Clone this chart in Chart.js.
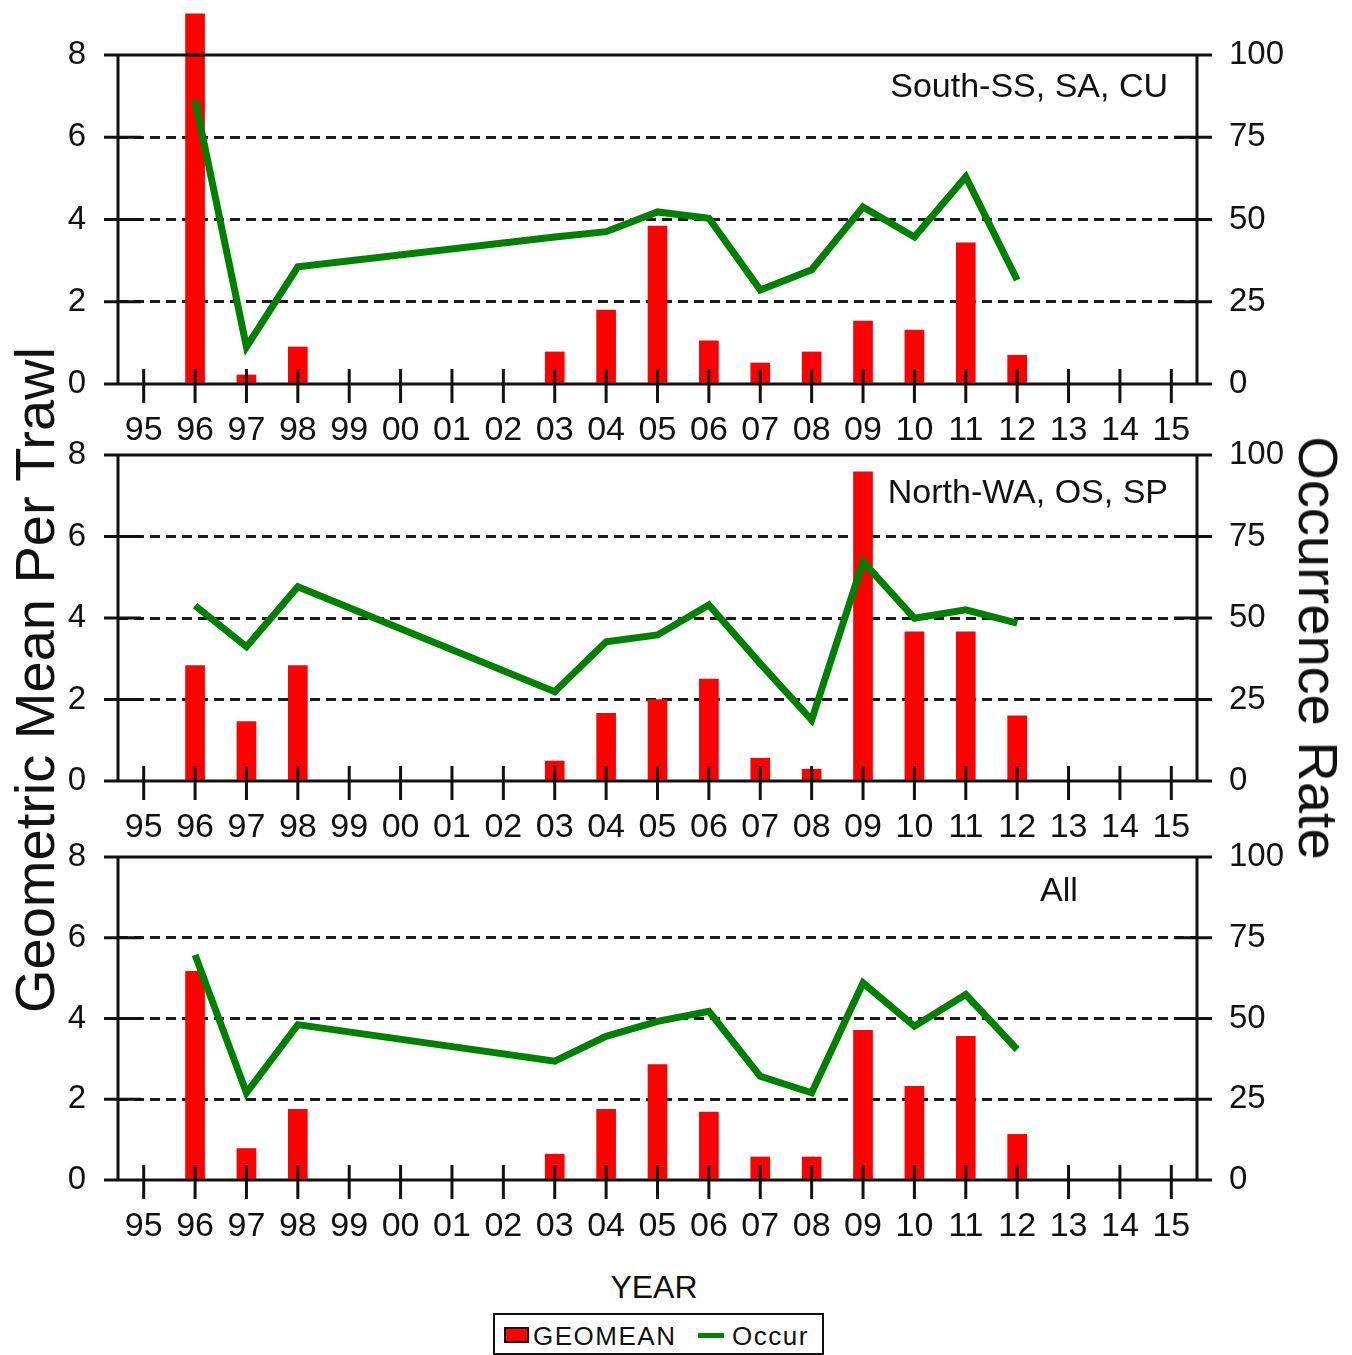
<!DOCTYPE html>
<html>
<head>
<meta charset="utf-8">
<script src="https://cdn.jsdelivr.net/npm/chart.js@4.4.1/dist/chart.umd.min.js"></script>
<style>
html, body { margin: 0; padding: 0; background: #fff; }
body { width: 1352px; height: 1355px; position: relative; overflow: hidden; font-family: 'Liberation Sans', Arial, sans-serif; color: #111; }
.pane { position: absolute; left: 0; width: 1352px; height: 450px; }
.txt { position: absolute; white-space: nowrap; line-height: 1; }
.rot { position: absolute; white-space: nowrap; line-height: 1; transform: translate(-50%, -50%); }
#legend { position: absolute; left: 493px; top: 1313px; width: 331px; height: 42px; box-sizing: border-box; border: 2px solid #111; }
#legend .sw { position: absolute; left: 9px; top: 12px; width: 25px; height: 16px; box-sizing: border-box; background: #ff0000; border: 2px solid #111; }
#legend .ln { position: absolute; left: 203px; top: 18px; width: 26px; height: 5px; background: #008000; }
#legend .lt { position: absolute; top: 8px; font-size: 26px; line-height: 1; letter-spacing: 1.5px; }
</style>
</head>
<body>
<canvas id="c1" class="pane" width="1352" height="450" style="top:0px"></canvas>
<canvas id="c2" class="pane" width="1352" height="450" style="top:400px"></canvas>
<canvas id="c3" class="pane" width="1352" height="450" style="top:800px"></canvas>

<div class="txt" style="right:184px; top:68px; font-size:34px;">South-SS, SA, CU</div>
<div class="txt" style="right:184px; top:474px; font-size:34px;">North-WA, OS, SP</div>
<div class="rot" style="left:1059px; top:889px; font-size:34px;">All</div>
<div class="rot" style="left:35px; top:680px; font-size:56px; transform: translate(-50%, -50%) rotate(-90deg);">Geometric Mean Per Trawl</div>
<div class="rot" style="left:1318px; top:648px; font-size:56px; transform: translate(-50%, -50%) rotate(90deg);">Occurrence Rate</div>
<div class="rot" style="left:654px; top:1287px; font-size:32px;">YEAR</div>
<div id="legend">
  <div class="sw"></div><div class="lt" style="left:38px;">GEOMEAN</div>
  <div class="ln"></div><div class="lt" style="left:237px;">Occur</div>
</div>

<script>
// ---- Data ----
const years = ['95','96','97','98','99','00','01','02','03','04','05','06','07','08','09','10','11','12','13','14','15'];

const southGeomean = [null, 9.0, 0.22, 0.9, null, null, null, null, 0.78, 1.8, 3.84, 1.05, 0.51, 0.78, 1.53, 1.31, 3.43, 0.7, null, null, null];
const southOccur   = [null, 86.3, 11.3, 35.6, null, null, null, null, 44.7, 46.3, 52.3, 50.4, 28.6, 34.7, 53.8, 44.7, 63.0, 31.6, null, null, null];

const northGeomean = [null, 2.83, 1.46, 2.83, null, null, null, null, 0.49, 1.66, 2.0, 2.5, 0.56, 0.29, 7.59, 3.66, 3.66, 1.6, null, null, null];
const northOccur   = [null, 53.8, 41.2, 59.6, null, null, null, null, 27.4, 42.7, 44.8, 54.0, 36.0, 18.7, 67.3, 49.9, 52.5, 48.4, null, null, null];

const allGeomean   = [null, 5.17, 0.78, 1.75, null, null, null, null, 0.64, 1.75, 2.86, 1.68, 0.57, 0.57, 3.71, 2.32, 3.56, 1.13, null, null, null];
const allOccur     = [null, 69.7, 27.0, 48.1, null, null, null, null, 36.8, 44.5, 49.1, 52.2, 32.1, 27.0, 61.0, 47.6, 57.4, 40.4, null, null, null];

const leftTicks  = [0, 2, 4, 6, 8];
const rightTicks = [0, 25, 50, 75, 100];

// ---- Styling ----
const INK = '#111';
const xFont = { family: "'Liberation Sans', Arial, sans-serif", size: 34 };
const yFont = { family: "'Liberation Sans', Arial, sans-serif", size: 33 };

const framePlugin = {
  id: 'frame',
  afterDatasetsDraw(chart) {
    const { ctx, chartArea: a, scales } = chart;
    const x = scales.x, y = scales.y, y1 = scales.y1;
    ctx.save();
    ctx.strokeStyle = INK;
    ctx.lineWidth = 3;
    ctx.lineCap = 'butt';
    ctx.beginPath();
    ctx.moveTo(a.left - 14, a.top);    ctx.lineTo(a.right + 15, a.top);
    ctx.moveTo(a.left - 14, a.bottom); ctx.lineTo(a.right + 15, a.bottom);
    ctx.moveTo(a.left, a.top);  ctx.lineTo(a.left, a.bottom);
    ctx.moveTo(a.right, a.top); ctx.lineTo(a.right, a.bottom);
    y.ticks.forEach((t, i) => { const p = y.getPixelForTick(i); ctx.moveTo(a.left - 14, p); ctx.lineTo(a.left + 23, p); });
    y1.ticks.forEach((t, i) => { const p = y1.getPixelForTick(i); ctx.moveTo(a.right - 23, p); ctx.lineTo(a.right + 15, p); });
    x.ticks.forEach((t, i) => { const p = x.getPixelForTick(i); ctx.moveTo(p, a.bottom - 15); ctx.lineTo(p, a.bottom + 19); });
    ctx.stroke();
    ctx.restore();
  }
};

function makePanel(id, geomean, occur, padTop, xHeight) {
  return new Chart(document.getElementById(id), {
    data: {
      labels: years,
      datasets: [
        {
          type: 'line', label: 'Occur', data: occur, yAxisID: 'y1', order: 0,
          borderColor: '#008000', borderWidth: 7, pointRadius: 0, pointHoverRadius: 0,
          spanGaps: true, tension: 0, fill: false
        },
        {
          type: 'bar', label: 'GEOMEAN', data: geomean, yAxisID: 'y', order: 1,
          backgroundColor: '#ff0000', borderWidth: 0, barThickness: 19, clip: false
        }
      ]
    },
    options: {
      responsive: false,
      animation: false,
      devicePixelRatio: 1,
      layout: { padding: { top: padTop, left: 0, right: 0, bottom: 0 } },
      plugins: { legend: { display: false }, tooltip: { enabled: false } },
      events: [],
      scales: {
        x: {
          type: 'category', offset: true,
          grid: { display: false }, border: { display: false },
          ticks: { font: xFont, color: INK, padding: 18, maxRotation: 0, autoSkip: false },
          afterFit: (s) => { s.height = xHeight; }
        },
        y: {
          position: 'left', min: 0, max: 8,
          afterBuildTicks: (s) => { s.ticks = leftTicks.map(v => ({ value: v })); },
          grid: {
            drawTicks: false, lineWidth: 3,
            color: (c) => (c.tick && c.tick.value > 0 && c.tick.value < 8) ? '#1a1a1a' : 'rgba(0,0,0,0)'
          },
          border: { display: false, dash: [10, 6] },
          ticks: { font: yFont, color: INK, padding: 32 },
          afterFit: (s) => { s.width = 118; }
        },
        y1: {
          position: 'right', min: 0, max: 100,
          afterBuildTicks: (s) => { s.ticks = rightTicks.map(v => ({ value: v })); },
          grid: { drawOnChartArea: false, drawTicks: false },
          border: { display: false },
          ticks: { font: yFont, color: INK, padding: 32 },
          afterFit: (s) => { s.width = 155; }
        }
      }
    },
    plugins: [framePlugin]
  });
}

makePanel('c1', southGeomean, southOccur, 55, 66);
makePanel('c2', northGeomean, northOccur, 55, 69);
makePanel('c3', allGeomean, allOccur, 57, 70);
</script>
</body>
</html>
